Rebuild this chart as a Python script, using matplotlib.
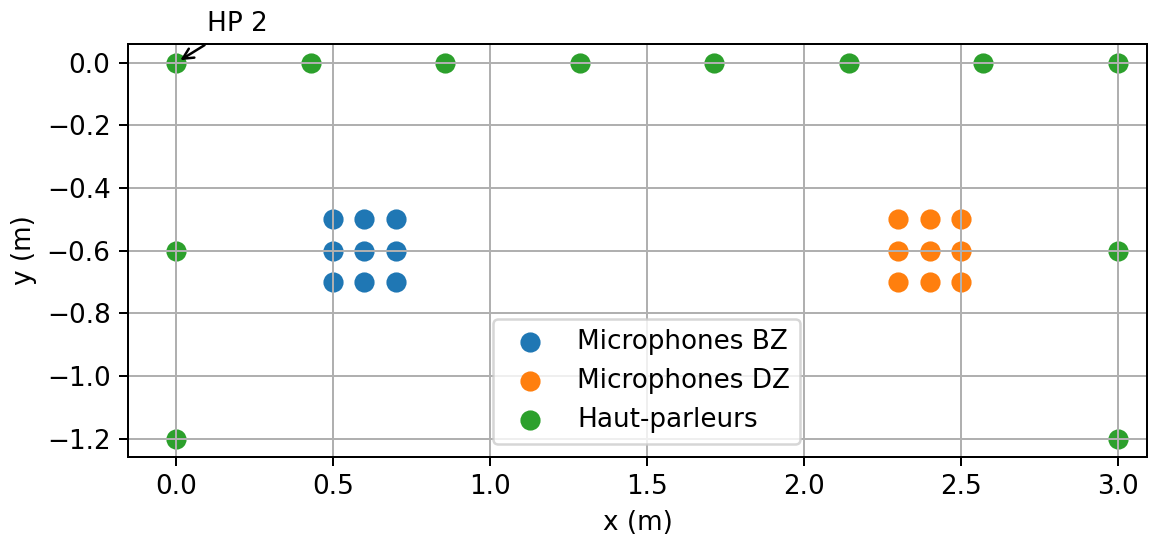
import numpy as np
import matplotlib
matplotlib.use("Agg")
import matplotlib.pyplot as plt

plt.rcParams['font.size'] = 10.5

# Microphone grids (bright zone / dark zone)
bz_x = [0.5, 0.6, 0.7, 0.5, 0.6, 0.7, 0.5, 0.6, 0.7]
bz_y = [-0.5, -0.5, -0.5, -0.6, -0.6, -0.6, -0.7, -0.7, -0.7]
dz_x = [2.3, 2.4, 2.5, 2.3, 2.4, 2.5, 2.3, 2.4, 2.5]
dz_y = [-0.5, -0.5, -0.5, -0.6, -0.6, -0.6, -0.7, -0.7, -0.7]

# Loudspeakers
hp_x = [0.0, 0.429, 0.857, 1.286, 1.714, 2.143, 2.571, 3.0, 0.0, 0.0, 3.0, 3.0]
hp_y = [0.0, 0.0, 0.0, 0.0, 0.0, 0.0, 0.0, 0.0, -0.6, -1.2, -0.6, -1.2]

fig = plt.figure(figsize=(6.4, 535 / 180), dpi=180)
ax = fig.add_axes([128 / 1152, 1 - 457 / 535, (1147 - 128) / 1152, (457 - 44) / 535])

ax.scatter(bz_x, bz_y, s=50, label="Microphones BZ")
ax.scatter(dz_x, dz_y, s=50, label="Microphones DZ")
ax.scatter(hp_x, hp_y, s=50, label="Haut-parleurs")

ax.annotate("HP 2", xy=(hp_x[0], hp_y[0]), xytext=(0.1, 0.1),
            arrowprops=dict(arrowstyle="->", color="black"), annotation_clip=False)

ax.set_xlim(-0.153, 3.092)
ax.set_ylim(-1.258, 0.06)
ax.set_xlabel("x (m)")
ax.set_ylabel("y (m)")
ax.grid(True)
ax.legend(loc="lower center", bbox_to_anchor=(0.509, 0))

fig.savefig("out.png", dpi=180)
